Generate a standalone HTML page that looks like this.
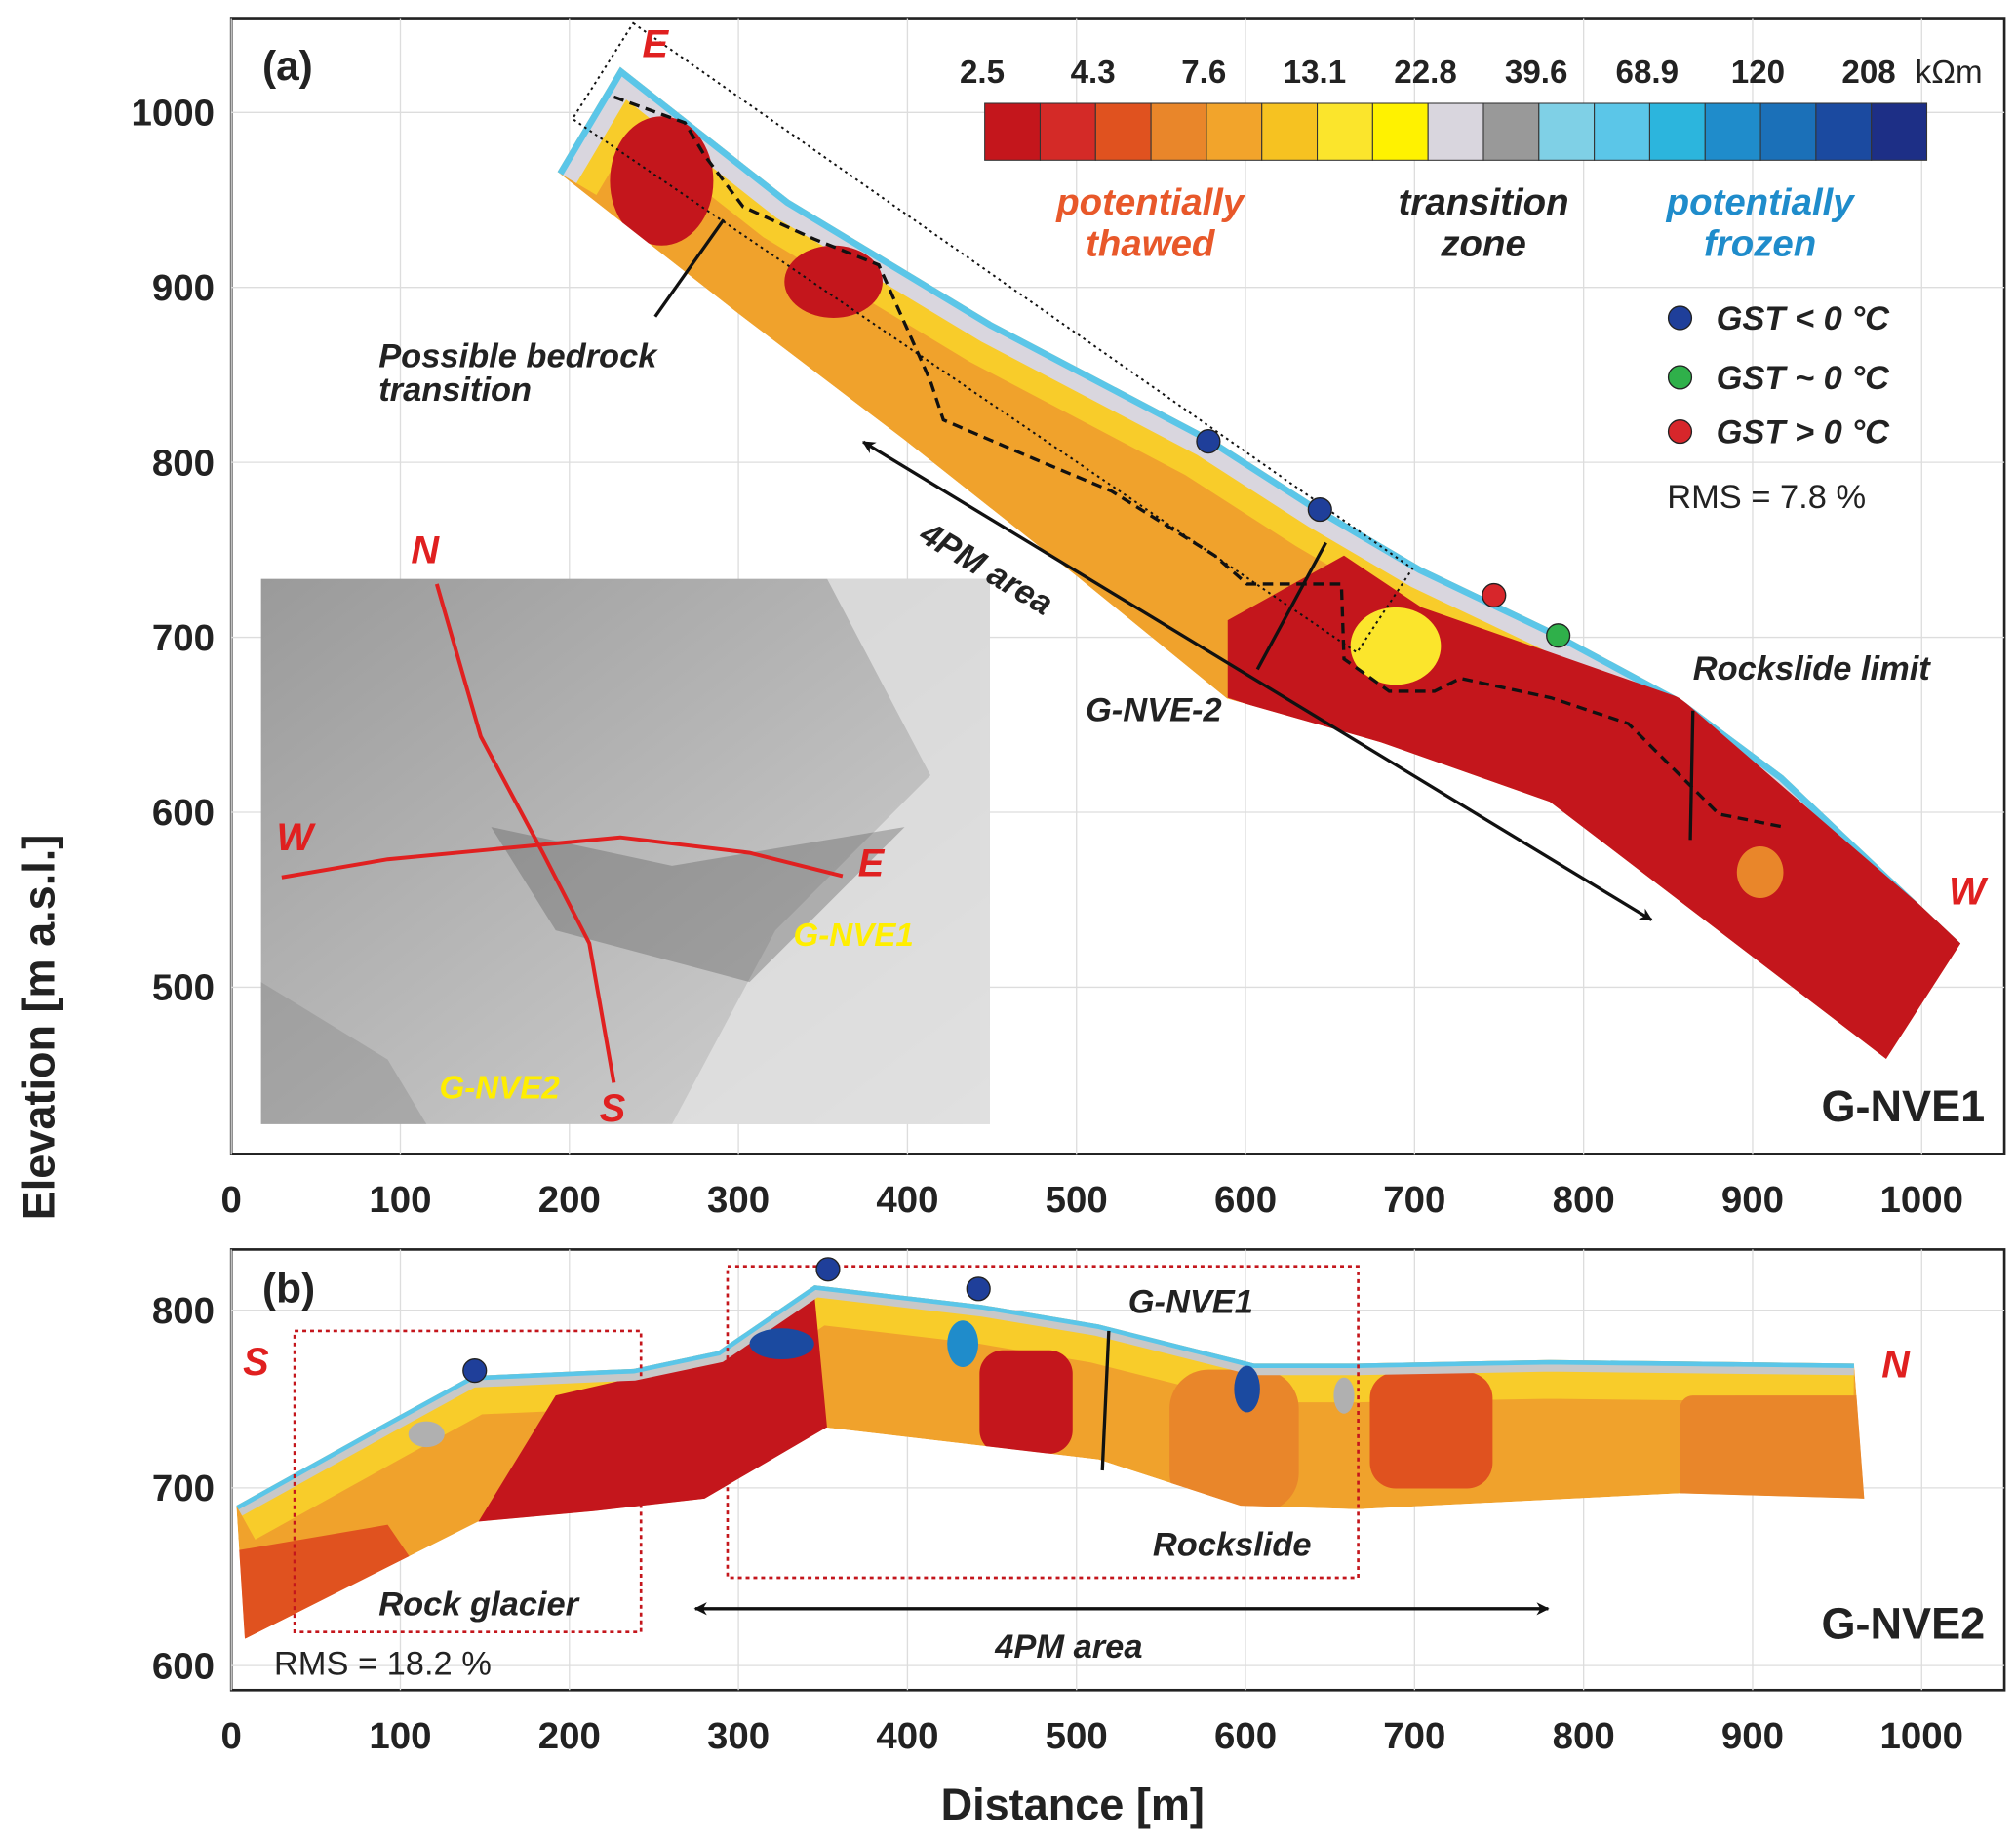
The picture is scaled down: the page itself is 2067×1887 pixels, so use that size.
<!DOCTYPE html>
<html><head><meta charset="utf-8"><style>
html,body{margin:0;padding:0;background:#fff;}
svg{display:block;font-family:"Liberation Sans",Arial,sans-serif;}
</style></head><body>
<svg id="fig" width="2067" height="1887" viewBox="0 0 1560 1424" preserveAspectRatio="none" xmlns="http://www.w3.org/2000/svg">
<defs>
<linearGradient id="hs" x1="0" y1="0" x2="1" y2="1"><stop offset="0" stop-color="#9a9a9a"/><stop offset="0.5" stop-color="#b8b8b8"/><stop offset="1" stop-color="#d6d6d6"/></linearGradient>
<marker id="ah" markerWidth="10" markerHeight="10" refX="9" refY="5" orient="auto-start-reverse" markerUnits="userSpaceOnUse" viewBox="0 0 10 10"><path d="M0,0 L10,5 L0,10 L3,5z" fill="#111"/></marker>
</defs>
<g id="root"></g>
</svg>
<script>
// ---- data ----
const xTicks=[0,100,200,300,400,500,600,700,800,900,1000];
const yTicksA=[500,600,700,800,900,1000];
const yTicksB=[600,700,800];
const cbLabels=["2.5","4.3","7.6","13.1","22.8","39.6","68.9","120","208"];
const cbColors=["#c4161c","#d42a27","#e0521f","#e9862a","#f2a42b","#f6c221","#fbe52c","#fff200","#d9d6de","#999999","#7fd0e6","#5bc6e8","#2cb5dd","#1f8ccb","#1b70b8","#1b4aa0","#1d2f86"];
const profATop=[[193,966],[230,1026],[330,950],[450,880],[578,815],[644,774],[704,740],[780,705],[857,665],[918,621],[1023,525]];
const profABot=[[979,459],[780,606],[680,640],[589,665],[500,735],[398,813],[300,885],[193,966]];
const profBTop=[[3,690],[92,737],[142,763],[238,767],[288,777],[345,814],[444,803],[513,792],[605,770],[666,770],[780,772],[960,770]];
const profBBot=[[966,694],[857,697],[666,688],[597,690],[513,716],[352,734],[280,694],[215,687],[146,681],[8,615]];
const gstA=[{d:578,e:812,c:"#1f3f9a"},{d:644,e:773,c:"#1f3f9a"},{d:747,e:724,c:"#d7262b"},{d:785,e:701,c:"#2fb04a"}];
const gstB=[{d:144,e:766},{d:353,e:823},{d:442,e:812}];

const NS="http://www.w3.org/2000/svg";
const root=document.getElementById('root');
function mk(tag,attrs,parent,name,inter){const el=document.createElementNS(NS,tag);for(const k in attrs)el.setAttribute(k,attrs[k]);


(parent||root).appendChild(el);return el;}
function txt(s,x,y,attrs,name,parent){const t=mk('text',Object.assign({x:x,y:y},attrs),parent,name);t.textContent=s;return t;}
const xA=d=>179+d*1.308, yA=e=>87+(1000-e)*1.354;
const yB=e=>1014+(800-e)*1.375;
const B="font-weight:bold;";

// ---- panel a ----
const ga=mk('g',{},root,'panel-a');
mk('rect',{x:179,y:14,width:1372,height:879,fill:'#fff',stroke:'#222','stroke-width':2},ga,'panel-a-frame');
xTicks.forEach(t=>{mk('line',{x1:xA(t),x2:xA(t),y1:14,y2:893,stroke:'#ddd','stroke-width':1},ga,'grid-x');
 txt(String(t),xA(t),938,{'text-anchor':'middle','font-size':29,style:B,fill:'#222'},'x-tick-a',ga);});
yTicksA.forEach(t=>{mk('line',{x1:179,x2:1551,y1:yA(t),y2:yA(t),stroke:'#ddd','stroke-width':1},ga,'grid-y');
 txt(String(t),166,yA(t)+10,{'text-anchor':'end','font-size':29,style:B,fill:'#222'},'y-tick-a',ga);});
const pa=profATop.concat(profABot).map(p=>xA(p[0])+','+yA(p[1])).join(' ');
mk('clipPath',{id:'cpa'},ga,'clip-a');
mk('polygon',{points:pa},document.getElementById('cpa'),'clip-a-poly');
const pga=mk('g',{'clip-path':'url(#cpa)'},ga,'profile-a');
mk('polygon',{points:pa,fill:'#f0a22c'},pga,'profile-a-base');
const topA=profATop.map(p=>xA(p[0])+','+yA(p[1])).join(' ');
mk('polyline',{points:topA,fill:'none',stroke:'#f8cc2a','stroke-width':70},pga,'yellow-band-a');
mk('polyline',{points:topA,fill:'none',stroke:'#d9d6de','stroke-width':34},pga,'grey-band-a');
mk('polyline',{points:topA,fill:'none',stroke:'#5bc6e8','stroke-width':10},pga,'blue-band-a');
mk('polygon',{points:'950,480 1040,430 1100,470 1300,540 1520,730 1460,820 1100,590 950,540',fill:'#c4161c'},pga,'red-zone-a');
mk('ellipse',{cx:1080,cy:500,rx:35,ry:30,fill:'#fbe52c'},pga,'yellow-blob');
mk('ellipse',{cx:512,cy:140,rx:40,ry:50,fill:'#c4161c'},pga,'red-blob-1');
mk('ellipse',{cx:645,cy:218,rx:38,ry:28,fill:'#c4161c'},pga,'red-blob-2');
mk('ellipse',{cx:1362,cy:675,rx:18,ry:20,fill:'#e9862a'},pga,'orange-blob');
mk('polyline',{points:'475,75 530,95 545,120 575,160 630,185 680,205 700,250 720,295 730,325 800,355 860,380 900,405 940,430 965,452 1038,452 1040,510 1075,535 1110,535 1130,525 1200,540 1260,560 1300,600 1330,630 1380,640',fill:'none',stroke:'#111','stroke-width':2.5,'stroke-dasharray':'8,5'},ga,'bedrock-line');
mk('polygon',{points:'490,18 1093,440 1050,505 443,92',fill:'none',stroke:'#111','stroke-width':1.5,'stroke-dasharray':'2,3'},ga,'dotted-box');
mk('line',{x1:668,y1:342,x2:1278,y2:712,stroke:'#111','stroke-width':2.5,'marker-start':'url(#ah)','marker-end':'url(#ah)'},ga,'arrow-4pm-a');
mk('line',{x1:507,y1:245,x2:560,y2:170,stroke:'#111','stroke-width':2.5},ga,'pointer-bedrock');
mk('line',{x1:973,y1:518,x2:1026,y2:420,stroke:'#111','stroke-width':2.5},ga,'gnve2-line');
mk('line',{x1:1308,y1:650,x2:1310,y2:550,stroke:'#111','stroke-width':2.5},ga,'rockslide-limit-line');
gstA.forEach(g=>mk('circle',{cx:xA(g.d),cy:yA(g.e),r:9,fill:g.c,stroke:'#222','stroke-width':1},ga,'gst-marker'));
// inset map
mk('rect',{x:202,y:448,width:564,height:422,fill:'url(#hs)'},ga,'inset-map');
mk('polygon',{points:'640,448 766,448 766,870 520,870 600,720 720,600',fill:'#e2e2e2',opacity:0.8},ga,'inset-light');
mk('polygon',{points:'380,640 520,670 700,640 580,760 430,720',fill:'#555',opacity:0.35},ga,'inset-shadow');
mk('polygon',{points:'202,760 300,820 330,870 202,870',fill:'#777',opacity:0.3},ga,'inset-shadow-2');
mk('polyline',{points:'338,452 372,570 420,660 456,730 475,838',fill:'none',stroke:'#e02020','stroke-width':3},ga,'line-ns');
mk('polyline',{points:'218,679 300,665 480,648 580,660 652,678',fill:'none',stroke:'#e02020','stroke-width':3},ga,'line-we');
const red="fill:#e02020;font-style:italic;font-weight:bold;";
txt('N',318,436,{'font-size':30,style:red},'label-n',ga);
txt('S',464,868,{'font-size':30,style:red},'label-s',ga);
txt('W',214,658,{'font-size':30,style:red},'label-w',ga);
txt('E',664,678,{'font-size':30,style:red},'label-e-inset',ga);
txt('E',497,44,{'font-size':30,style:red},'label-e',ga);
txt('W',1508,700,{'font-size':30,style:red},'label-w-end',ga);
const yel="fill:#ffee00;font-style:italic;font-weight:bold;";
txt('G-NVE1',614,732,{'font-size':25,style:yel},'inset-gnve1',ga);
txt('G-NVE2',340,850,{'font-size':25,style:yel},'inset-gnve2',ga);
cbColors.forEach((c,i)=>mk('rect',{x:762+i*42.88,y:80,width:42.88,height:44,fill:c,stroke:'#333','stroke-width':0.8},ga,'colorbar-cell'));
cbLabels.forEach((l,i)=>txt(l,760+i*85.76,64,{'text-anchor':'middle','font-size':25,style:B,fill:'#222'},'colorbar-label',ga));
txt('kΩm',1482,64,{'font-size':25,fill:'#222'},'colorbar-unit',ga);
const it="font-style:italic;font-weight:bold;";
txt('potentially',890,166,{'text-anchor':'middle','font-size':29,style:it+'fill:#e8582a;'},'legend-thawed-1',ga);
txt('thawed',890,198,{'text-anchor':'middle','font-size':29,style:it+'fill:#e8582a;'},'legend-thawed-2',ga);
txt('transition',1148,166,{'text-anchor':'middle','font-size':29,style:it+'fill:#222;'},'legend-transition-1',ga);
txt('zone',1148,198,{'text-anchor':'middle','font-size':29,style:it+'fill:#222;'},'legend-transition-2',ga);
txt('potentially',1362,166,{'text-anchor':'middle','font-size':29,style:it+'fill:#1f8ccb;'},'legend-frozen-1',ga);
txt('frozen',1362,198,{'text-anchor':'middle','font-size':29,style:it+'fill:#1f8ccb;'},'legend-frozen-2',ga);
[["#1f3f9a","GST < 0 °C",246],["#2fb04a","GST ~ 0 °C",292],["#d7262b","GST > 0 °C",334]].forEach(r=>{
 mk('circle',{cx:1300,cy:r[2],r:9,fill:r[0],stroke:'#222','stroke-width':1},ga,'legend-marker');
 txt(r[1],1328,r[2]+9,{'font-size':26,style:it+'fill:#222;'},'legend-gst',ga);});
txt('RMS = 7.8 %',1290,393,{'font-size':26,fill:'#222'},'rms-a',ga);
txt('(a)',203,62,{'font-size':32,style:B,fill:'#222'},'panel-a-label',ga);
txt('G-NVE1',1536,868,{'text-anchor':'end','font-size':34,style:B,fill:'#222'},'panel-a-name',ga);
txt('Possible bedrock',293,284,{'font-size':26,style:it+'fill:#222;'},'ann-bedrock-1',ga);
txt('transition',293,310,{'font-size':26,style:it+'fill:#222;'},'ann-bedrock-2',ga);
txt('4PM area',710,418,{'font-size':26,style:it+'fill:#222;',transform:'rotate(31 710 418)'},'ann-4pm-a',ga);
txt('G-NVE-2',840,558,{'font-size':26,style:it+'fill:#222;'},'ann-gnve2',ga);
txt('Rockslide limit',1310,526,{'font-size':26,style:it+'fill:#222;'},'ann-rockslide-limit',ga);

// ---- panel b ----
const gb=mk('g',{},root,'panel-b');
mk('rect',{x:179,y:967,width:1372,height:341,fill:'#fff',stroke:'#222','stroke-width':2},gb,'panel-b-frame');
xTicks.forEach(t=>{mk('line',{x1:xA(t),x2:xA(t),y1:967,y2:1308,stroke:'#ddd','stroke-width':1},gb,'grid-x-b');
 txt(String(t),xA(t),1353,{'text-anchor':'middle','font-size':29,style:B,fill:'#222'},'x-tick-b',gb);});
yTicksB.forEach(t=>{mk('line',{x1:179,x2:1551,y1:yB(t),y2:yB(t),stroke:'#ddd','stroke-width':1},gb,'grid-y-b');
 txt(String(t),166,yB(t)+10,{'text-anchor':'end','font-size':29,style:B,fill:'#222'},'y-tick-b',gb);});
const pb=profBTop.concat(profBBot).map(p=>xA(p[0])+','+yB(p[1])).join(' ');
mk('clipPath',{id:'cpb'},gb,'clip-b');
mk('polygon',{points:pb},document.getElementById('cpb'),'clip-b-poly');
const pgb=mk('g',{'clip-path':'url(#cpb)'},gb,'profile-b');
mk('polygon',{points:pb,fill:'#f0a22c'},pgb,'profile-b-base');
const topB=profBTop.map(p=>xA(p[0])+','+yB(p[1])).join(' ');
mk('polyline',{points:topB,fill:'none',stroke:'#f8cc2a','stroke-width':60},pgb,'yellow-band-b');
mk('polygon',{points:'370,1178 430,1080 560,1050 630,1000 640,1105 545,1160 460,1170',fill:'#c4161c'},pgb,'red-zone-b');
mk('rect',{x:758,y:1045,width:72,height:80,rx:18,fill:'#c4161c'},pgb,'red-block-b');
mk('rect',{x:905,y:1060,width:100,height:110,rx:30,fill:'#e9862a'},pgb,'orange-b1');
mk('rect',{x:1060,y:1062,width:95,height:90,rx:20,fill:'#e0521f'},pgb,'orange-b2');
mk('rect',{x:1300,y:1080,width:150,height:85,rx:10,fill:'#e9862a'},pgb,'orange-b3');
mk('polygon',{points:'183,1200 300,1180 360,1268 183,1268',fill:'#e0521f'},pgb,'orange-b4');
mk('polyline',{points:topB,fill:'none',stroke:'#c8c8c8','stroke-width':18},pgb,'grey-band-b');
mk('polyline',{points:topB,fill:'none',stroke:'#5bc6e8','stroke-width':7},pgb,'blue-band-b');
mk('ellipse',{cx:605,cy:1040,rx:25,ry:12,fill:'#1b4aa0'},pgb,'blue-blob-b1');
mk('ellipse',{cx:745,cy:1040,rx:12,ry:18,fill:'#1f8ccb'},pgb,'blue-blob-b2');
mk('ellipse',{cx:965,cy:1075,rx:10,ry:18,fill:'#1b4aa0'},pgb,'blue-blob-b3');
mk('ellipse',{cx:330,cy:1110,rx:14,ry:10,fill:'#b0b0b0'},pgb,'grey-blob-b1');
mk('ellipse',{cx:1040,cy:1080,rx:8,ry:14,fill:'#b0b0b0'},pgb,'grey-blob-b2');
mk('rect',{x:228,y:1030,width:268,height:233,fill:'none',stroke:'#c4161c','stroke-width':2,'stroke-dasharray':'3,3'},gb,'box-rock-glacier');
mk('rect',{x:563,y:980,width:488,height:241,fill:'none',stroke:'#c4161c','stroke-width':2,'stroke-dasharray':'3,3'},gb,'box-rockslide');
mk('line',{x1:538,y1:1245,x2:1198,y2:1245,stroke:'#111','stroke-width':2.5,'marker-start':'url(#ah)','marker-end':'url(#ah)'},gb,'arrow-4pm-b');
mk('line',{x1:858,y1:1030,x2:853,y2:1138,stroke:'#111','stroke-width':2.5},gb,'gnve1-line');
gstB.forEach(g=>mk('circle',{cx:xA(g.d),cy:yB(g.e),r:9,fill:'#1f3f9a',stroke:'#222','stroke-width':1},gb,'gst-marker-b'));
txt('(b)',203,1008,{'font-size':32,style:B,fill:'#222'},'panel-b-label',gb);
txt('S',188,1064,{'font-size':30,style:red},'label-s-b',gb);
txt('N',1456,1066,{'font-size':30,style:red},'label-n-b',gb);
txt('G-NVE1',873,1016,{'font-size':26,style:it+'fill:#222;'},'ann-gnve1-b',gb);
txt('Rockslide',892,1204,{'font-size':26,style:it+'fill:#222;'},'ann-rockslide',gb);
txt('Rock glacier',293,1250,{'font-size':26,style:it+'fill:#222;'},'ann-rock-glacier',gb);
txt('4PM area',770,1283,{'font-size':26,style:it+'fill:#222;'},'ann-4pm-b',gb);
txt('RMS = 18.2 %',212,1296,{'font-size':26,fill:'#222'},'rms-b',gb);
txt('G-NVE2',1536,1268,{'text-anchor':'end','font-size':34,style:B,fill:'#222'},'panel-b-name',gb);

txt('Distance [m]',830,1408,{'text-anchor':'middle','font-size':34,style:B,fill:'#222'},'x-axis-title');
txt('Elevation [m a.s.l.]',42,795,{'text-anchor':'middle','font-size':34,style:B,fill:'#222',transform:'rotate(-90 42 795)'},'y-axis-title');
</script>
</body></html>
